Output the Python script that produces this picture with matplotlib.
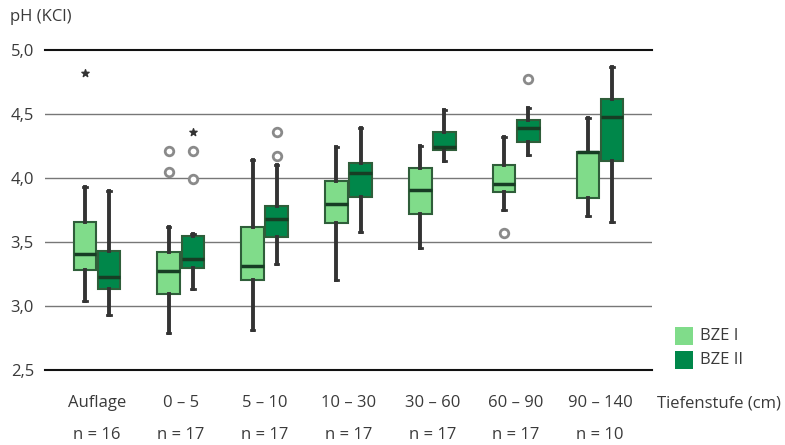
import matplotlib
matplotlib.use("Agg")
import matplotlib.pyplot as plt
from matplotlib.patches import Rectangle
from matplotlib.transforms import blended_transform_factory

plt.rcParams['font.family'] = ['Open Sans', 'DejaVu Sans']

categories = ["Auflage", "0 – 5", "5 – 10", "10 – 30", "30 – 60", "60 – 90", "90 – 140"]
n_labels = ["n = 16", "n = 17", "n = 17", "n = 17", "n = 17", "n = 17", "n = 10"]
series = ["BZE I", "BZE II"]

# box statistics: whislo, q1, med, q3, whishi
bze1_stats = [
    [3.04, 3.28, 3.41, 3.66, 3.93],
    [2.79, 3.09, 3.27, 3.42, 3.62],
    [2.81, 3.20, 3.31, 3.62, 4.14],
    [3.20, 3.65, 3.80, 3.98, 4.24],
    [3.45, 3.72, 3.91, 4.08, 4.25],
    [3.75, 3.89, 3.95, 4.10, 4.32],
    [3.70, 3.84, 4.20, 4.20, 4.47],
]
bze2_stats = [
    [2.93, 3.13, 3.23, 3.43, 3.90],
    [3.13, 3.30, 3.37, 3.55, 3.56],
    [3.33, 3.54, 3.68, 3.78, 4.10],
    [3.58, 3.85, 4.04, 4.12, 4.39],
    [4.13, 4.22, 4.24, 4.36, 4.53],
    [4.18, 4.28, 4.39, 4.45, 4.55],
    [3.66, 4.13, 4.48, 4.62, 4.87],
]
# outliers (circles) and extremes (stars)
bze1_outliers = [[], [4.21, 4.05], [], [], [], [3.57], []]
bze1_extremes = [[4.82], [], [], [], [], [], []]
bze2_outliers = [[], [4.21, 3.99], [4.36, 4.17], [], [], [4.77], []]
bze2_extremes = [[], [4.36], [], [], [], [], []]

colors = ["#80dc8a", "#00874a"]
edge = "#2f5e3a"
text_color = "#3a3a3a"

fig = plt.figure(figsize=(7.85, 4.45), dpi=100)
ax = fig.add_axes([45/785, 1-370/445, 607/785, 320/445])

offset = 0.145
width = 0.27
for si, (stats_list, outl, extr) in enumerate([(bze1_stats, bze1_outliers, bze1_extremes),
                                               (bze2_stats, bze2_outliers, bze2_extremes)]):
    positions = [i + (offset if si else -offset) for i in range(len(categories))]
    stats = []
    for s in stats_list:
        stats.append(dict(whislo=s[0], q1=s[1], med=s[2], q3=s[3], whishi=s[4], fliers=[]))
    ax.bxp(stats, positions=positions, widths=width, patch_artist=True, showfliers=False,
           boxprops=dict(facecolor=colors[si], edgecolor=edge, linewidth=1.5),
           medianprops=dict(color="#173d24", linewidth=2.5),
           whiskerprops=dict(color="#333333", linewidth=2.8),
           capprops=dict(color="#333333", linewidth=2.0),
           capwidths=0.04, zorder=3)
    for p, o, e in zip(positions, outl, extr):
        if o:
            ax.scatter([p]*len(o), o, marker='o', s=38, facecolor='white',
                       edgecolor='#8a8a8a', linewidths=2.0, zorder=4)
        if e:
            ax.scatter([p]*len(e), e, marker='*', s=30, color='#333333', zorder=4)

ax.set_ylim(2.5, 5.0)
ax.set_xlim(-0.62, 6.62)
yt = [2.5, 3.0, 3.5, 4.0, 4.5, 5.0]
for y in yt:
    if y in (2.5, 5.0):
        ax.axhline(y, color='#111111', linewidth=1.5, zorder=1, clip_on=False)
    else:
        ax.axhline(y, color='#777777', linewidth=1.0, zorder=1)
ax.set_yticks(yt)
ax.set_yticklabels([f"{y:.1f}".replace('.', ',') for y in yt], fontsize=12, color=text_color)
ax.tick_params(axis='y', length=0, pad=8)
ax.set_xticks([])
for sp in ax.spines.values():
    sp.set_visible(False)

trans = blended_transform_factory(ax.transData, fig.transFigure)
for i, (c, n) in enumerate(zip(categories, n_labels)):
    ax.text(i, 1-403/445, c, transform=trans, ha='center', va='center',
            fontsize=12, color=text_color)
    ax.text(i, 1-435/445, n, transform=trans, ha='center', va='center',
            fontsize=12, color=text_color)

fig.text(657/785, 1-403/445, "Tiefenstufe (cm)", ha='left', va='center', fontsize=12, color=text_color)
fig.text(10/785, 1-17/445, "pH (KCl)", ha='left', va='center', fontsize=12, color=text_color)

for si, name in enumerate(series):
    y0 = 327 + si*24
    fig.patches.append(Rectangle((675/785, 1-(y0+18)/445), 18/785, 18/445,
                                 transform=fig.transFigure, facecolor=colors[si], edgecolor='none'))
    fig.text(700/785, 1-(y0+9)/445, name, ha='left', va='center', fontsize=12, color=text_color)

fig.savefig("out.png", dpi=100)
